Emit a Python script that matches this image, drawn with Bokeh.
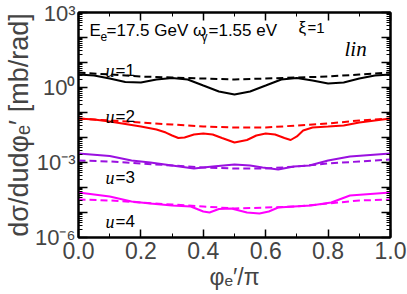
import math
from bokeh.plotting import figure
from bokeh.models import (FixedTicker, LinearAxis, LogAxis, Label,
                          CustomJSTickFormatter)
from bokeh.embed import file_html
from bokeh.resources import INLINE

# ---------------- data ----------------
phi_u1 = [0, 0.05, 0.1, 0.15, 0.2, 0.25, 0.3, 0.35, 0.4, 0.45, 0.5,
          0.55, 0.6, 0.65, 0.7, 0.75, 0.8, 0.85, 0.9, 0.95, 1.0]
u1_full = [3.31, 3.02, 2.29, 1.66, 1.58, 2.09, 2.40, 2.09, 1.20, 0.69, 0.52,
           0.69, 1.20, 2.09, 2.40, 1.91, 1.45, 1.58, 2.29, 3.02, 3.31]
phi_d = [0, 0.1, 0.2, 0.3, 0.4, 0.5, 0.6, 0.7, 0.8, 0.9, 1.0]
u1_appr = [3.98, 3.31, 2.75, 2.51, 2.29, 2.09, 2.29, 2.51, 2.75, 3.31, 3.98]

phi_u2 = [0, 0.05, 0.1, 0.15, 0.2, 0.25, 0.28, 0.3, 0.32, 0.34, 0.37, 0.4,
          0.43, 0.46, 0.5, 0.54, 0.57, 0.6, 0.63, 0.66, 0.68, 0.7, 0.72,
          0.75, 0.8, 0.85, 0.9, 0.95, 1.0]
u2_full = [0.0575, 0.0525, 0.0437, 0.0347, 0.0275, 0.0209, 0.0158, 0.0120,
           0.00955, 0.0100, 0.0132, 0.0145, 0.0132, 0.00955, 0.00631, 0.00794,
           0.0120, 0.0145, 0.0132, 0.00955, 0.00794, 0.0110, 0.0191, 0.0251,
           0.0275, 0.0302, 0.0398, 0.0479, 0.0575]
u2_appr = [0.0575, 0.0479, 0.0398, 0.0331, 0.0275, 0.0251, 0.0251, 0.0302,
           0.0363, 0.0479, 0.0575]

phi_u3 = [0, 0.1, 0.17, 0.23, 0.3, 0.37, 0.43, 0.5, 0.55, 0.59, 0.64, 0.69,
          0.74, 0.8, 0.87, 1.0]
u3_full = [2.29e-3, 1.82e-3, 1.20e-3, 1.0e-3, 7.59e-4, 5.75e-4, 6.92e-4,
           8.32e-4, 7.59e-4, 6.31e-4, 5.25e-4, 6.92e-4, 7.59e-4, 1.20e-3,
           1.74e-3, 2.29e-3]
u3_appr = [1.20e-3, 1.10e-3, 9.12e-4, 7.59e-4, 6.31e-4, 5.75e-4, 5.75e-4,
           6.92e-4, 9.12e-4, 1.10e-3, 1.32e-3]

phi_u4 = [0, 0.1, 0.17, 0.23, 0.3, 0.36, 0.4, 0.42, 0.45, 0.49, 0.54, 0.58,
          0.61, 0.64, 0.69, 0.745, 0.81, 0.87, 1.0]
u4_full = [6.31e-5, 4.37e-5, 2.75e-5, 2.29e-5, 1.91e-5, 1.74e-5, 1.10e-5,
           1.0e-5, 1.38e-5, 1.45e-5, 1.0e-5, 9.12e-6, 1.10e-5, 1.58e-5,
           1.74e-5, 1.91e-5, 2.51e-5, 4.79e-5, 6.31e-5]
u4_appr = [3.31e-5, 3.02e-5, 2.51e-5, 2.09e-5, 1.74e-5, 1.45e-5, 1.58e-5,
           1.74e-5, 2.29e-5, 3.02e-5, 3.31e-5]

x_ticks = [0.0, 0.2, 0.4, 0.6, 0.8, 1.0]
x_minor = [0.1, 0.3, 0.5, 0.7, 0.9]
y_decades = list(range(-6, 4))

colors = ["#000000", "#ff0000", "#9a10e0", "#ff00ff"]
series = [(phi_u1, u1_full, u1_appr), (phi_u2, u2_full, u2_appr),
          (phi_u3, u3_full, u3_appr), (phi_u4, u4_full, u4_appr)]

SANS = "Liberation Sans"
SERIF = "Liberation Serif"

p = figure(width=407, height=294, y_axis_type="log",
           x_range=(0, 1), y_range=(1e-6, 1e3),
           output_backend="svg", toolbar_location=None,
           min_border_left=77, min_border_right=17,
           min_border_top=12, min_border_bottom=57)
p.grid.visible = False
p.outline_line_color = "black"
p.outline_line_width = 2
p.background_fill_color = "white"
p.border_fill_color = "white"

for (ph, full, appr), c in zip(series, colors):
    p.line(ph, full, line_color=c, line_width=2)
    p.line(phi_d, appr, line_color=c, line_width=2, line_dash="7 4")

yt = [10.0 ** e for e in y_decades]
ym = [k * 10.0 ** e for e in y_decades[:-1] for k in range(2, 10)]

yfmt = CustomJSTickFormatter(code="""
const e = Math.round(Math.log10(tick));
if (e % 3 != 0) return '';
const sup = {'0':'\u2070','1':'\u00b9','2':'\u00b2','3':'\u00b3','4':'\u2074',
             '5':'\u2075','6':'\u2076','7':'\u2077','8':'\u2078','9':'\u2079','-':'\u207b'};
return '10' + String(e).split('').map(c => sup[c]).join('');
""")
blank = CustomJSTickFormatter(code="return '';")


def style(ax, major, minor, labels=True):
    ax.axis_line_width = 2
    ax.axis_line_color = "black"
    ax.major_tick_in = major
    ax.major_tick_out = 0
    ax.minor_tick_in = minor
    ax.minor_tick_out = 0
    ax.major_tick_line_width = 1.5
    ax.minor_tick_line_width = 1
    if not labels:
        ax.formatter = blank
        ax.major_label_text_font_size = "0px"
        ax.major_label_standoff = 0


xa = p.xaxis[0]
xa.ticker = FixedTicker(ticks=x_ticks, minor_ticks=x_minor)
xa.formatter = CustomJSTickFormatter(code="return tick.toFixed(1);")
style(xa, 8, 4)
xa.major_label_text_font = SANS
xa.major_label_text_font_size = "23px"
xa.major_label_standoff = 4
xa.axis_label = "\u03c6\u2091\u2032/\u03c0"
xa.axis_label_text_font = SANS
xa.axis_label_text_font_style = "normal"
xa.axis_label_text_font_size = "23px"
xa.axis_label_standoff = 2

ya = p.yaxis[0]
ya.ticker = FixedTicker(ticks=yt, minor_ticks=ym)
ya.formatter = yfmt
style(ya, 9, 4)
ya.major_label_text_font = SANS
ya.major_label_text_font_size = "22px"
ya.major_label_standoff = 3
ya.axis_label = "d\u03c3/dud\u03c6\u2091\u2032 [mb/rad]"
ya.axis_label_text_font = SANS
ya.axis_label_text_font_style = "normal"
ya.axis_label_text_font_size = "27px"
ya.axis_label_standoff = -2

top = LinearAxis(ticker=FixedTicker(ticks=x_ticks, minor_ticks=x_minor))
style(top, 8, 4, labels=False)
p.add_layout(top, "above")
right = LogAxis(ticker=FixedTicker(ticks=yt, minor_ticks=ym))
style(right, 9, 4, labels=False)
p.add_layout(right, "right")


def lab(x, y, text, size, font=SANS, style_="normal", angle=0.0, color="black"):
    p.add_layout(Label(x=x, y=y, x_units="screen", y_units="screen", text=text,
                       text_font=font, text_font_size=f"{size}px",
                       text_font_style=style_, angle=angle,
                       text_align="left", text_baseline="alphabetic",
                       text_color=color))


# annotation inside the frame (screen px relative to frame bottom-left)
lab(11, 207, "E", 17)
lab(22, 201, "e", 12)
lab(28, 207, "=17.5 GeV \u03c9", 17)
lab(123, 201, "\u03b3", 12)
lab(130, 207, "=1.55 eV", 17)
lab(220, 210, "\u03be", 17)
lab(229, 210, "=1", 15)
lab(266, 189, "lin", 21, font=SERIF, style_="italic")

# curve labels
for i, yb in enumerate([70, 116, 177, 221]):
    lab(27, 237 - yb, "u", 18, font=SERIF, style_="italic")
    lab(37, 237 - yb, f"={i + 1}", 17)

open("out.html", "w").write(file_html(p, INLINE))
